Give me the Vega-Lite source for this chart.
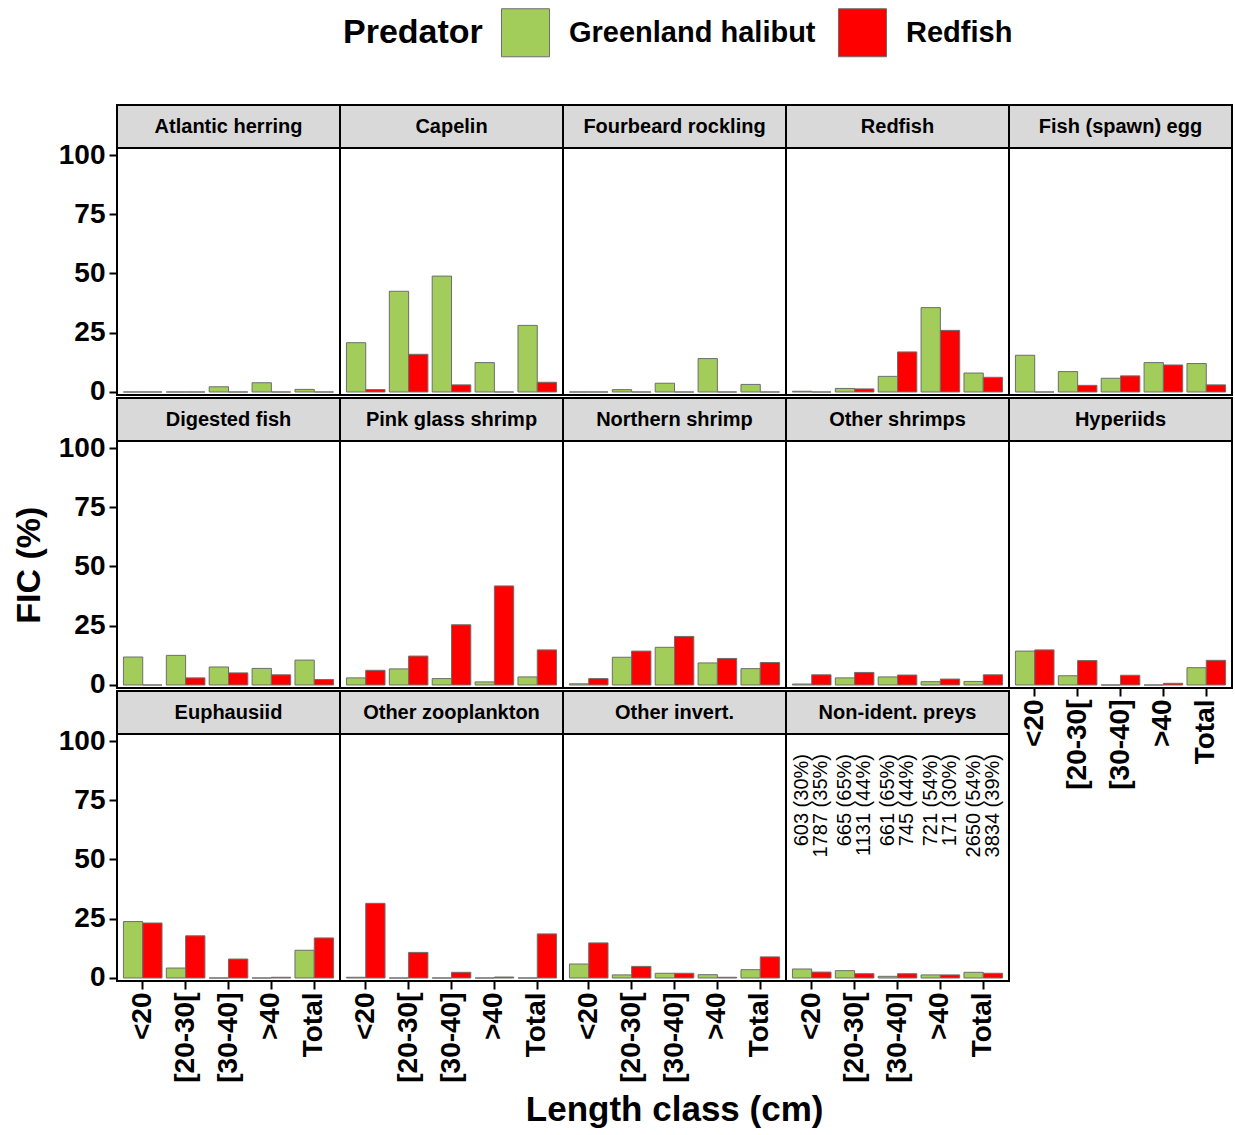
{
 "$schema": "https://vega.github.io/schema/vega-lite/v6.json",
 "background": "white",
 "padding": {"left": 13, "top": 8, "right": 3, "bottom": 3},
 "title": {"text": "Length class (cm)", "orient": "bottom", "anchor": "middle", "fontSize": 35, "fontWeight": "bold", "color": "black", "offset": 10, "dx": 51},
 "config": {
  "font": "Liberation Sans",
  "view": {"stroke": "black", "strokeWidth": 2},
  "axis": {"domain": false, "grid": false, "labelFontSize": 28, "labelFontWeight": "bold", "labelColor": "black", "tickColor": "black", "tickWidth": 2, "tickSize": 8, "labelPadding": 4},
  "axisX": {"labelAngle": -90, "labelPadding": 3},
  "bar": {"stroke": "#6e6e6e", "strokeWidth": 1},
  "legend": {"orient": "none", "legendX": 226, "legendY": -97, "direction": "horizontal", "titleOrient": "left", "titleFontSize": 34, "titleFontWeight": "bold", "titleColor": "black", "labelFontSize": 29, "labelFontWeight": "bold", "labelColor": "black", "labelLimit": 400, "symbolType": "square", "symbolSize": 2304, "symbolStrokeColor": "#6e6e6e", "symbolStrokeWidth": 1, "symbolOpacity": 1, "labelOffset": 19, "columnPadding": 20, "titlePadding": 18}
 },
 "data": {"values": [
  {"prey":"Atlantic herring","len":"<20","pred":"Greenland halibut","fic":0},
  {"prey":"Atlantic herring","len":"<20","pred":"Redfish","fic":0},
  {"prey":"Atlantic herring","len":"[20-30[","pred":"Greenland halibut","fic":0},
  {"prey":"Atlantic herring","len":"[20-30[","pred":"Redfish","fic":0},
  {"prey":"Atlantic herring","len":"[30-40]","pred":"Greenland halibut","fic":2.2},
  {"prey":"Atlantic herring","len":"[30-40]","pred":"Redfish","fic":0},
  {"prey":"Atlantic herring","len":">40","pred":"Greenland halibut","fic":3.9},
  {"prey":"Atlantic herring","len":">40","pred":"Redfish","fic":0},
  {"prey":"Atlantic herring","len":"Total","pred":"Greenland halibut","fic":1.1},
  {"prey":"Atlantic herring","len":"Total","pred":"Redfish","fic":0},
  {"prey":"Capelin","len":"<20","pred":"Greenland halibut","fic":20.8},
  {"prey":"Capelin","len":"<20","pred":"Redfish","fic":1.0},
  {"prey":"Capelin","len":"[20-30[","pred":"Greenland halibut","fic":42.5},
  {"prey":"Capelin","len":"[20-30[","pred":"Redfish","fic":15.9},
  {"prey":"Capelin","len":"[30-40]","pred":"Greenland halibut","fic":48.9},
  {"prey":"Capelin","len":"[30-40]","pred":"Redfish","fic":3.0},
  {"prey":"Capelin","len":">40","pred":"Greenland halibut","fic":12.4},
  {"prey":"Capelin","len":">40","pred":"Redfish","fic":0},
  {"prey":"Capelin","len":"Total","pred":"Greenland halibut","fic":28.1},
  {"prey":"Capelin","len":"Total","pred":"Redfish","fic":4.1},
  {"prey":"Fourbeard rockling","len":"<20","pred":"Greenland halibut","fic":0},
  {"prey":"Fourbeard rockling","len":"<20","pred":"Redfish","fic":0},
  {"prey":"Fourbeard rockling","len":"[20-30[","pred":"Greenland halibut","fic":1.0},
  {"prey":"Fourbeard rockling","len":"[20-30[","pred":"Redfish","fic":0},
  {"prey":"Fourbeard rockling","len":"[30-40]","pred":"Greenland halibut","fic":3.7},
  {"prey":"Fourbeard rockling","len":"[30-40]","pred":"Redfish","fic":0},
  {"prey":"Fourbeard rockling","len":">40","pred":"Greenland halibut","fic":14.1},
  {"prey":"Fourbeard rockling","len":">40","pred":"Redfish","fic":0},
  {"prey":"Fourbeard rockling","len":"Total","pred":"Greenland halibut","fic":3.2},
  {"prey":"Fourbeard rockling","len":"Total","pred":"Redfish","fic":0},
  {"prey":"Redfish","len":"<20","pred":"Greenland halibut","fic":0.3},
  {"prey":"Redfish","len":"<20","pred":"Redfish","fic":0},
  {"prey":"Redfish","len":"[20-30[","pred":"Greenland halibut","fic":1.5},
  {"prey":"Redfish","len":"[20-30[","pred":"Redfish","fic":1.3},
  {"prey":"Redfish","len":"[30-40]","pred":"Greenland halibut","fic":6.6},
  {"prey":"Redfish","len":"[30-40]","pred":"Redfish","fic":16.9},
  {"prey":"Redfish","len":">40","pred":"Greenland halibut","fic":35.6},
  {"prey":"Redfish","len":">40","pred":"Redfish","fic":26.0},
  {"prey":"Redfish","len":"Total","pred":"Greenland halibut","fic":8.0},
  {"prey":"Redfish","len":"Total","pred":"Redfish","fic":6.2},
  {"prey":"Fish (spawn) egg","len":"<20","pred":"Greenland halibut","fic":15.5},
  {"prey":"Fish (spawn) egg","len":"<20","pred":"Redfish","fic":0},
  {"prey":"Fish (spawn) egg","len":"[20-30[","pred":"Greenland halibut","fic":8.6},
  {"prey":"Fish (spawn) egg","len":"[20-30[","pred":"Redfish","fic":2.8},
  {"prey":"Fish (spawn) egg","len":"[30-40]","pred":"Greenland halibut","fic":5.8},
  {"prey":"Fish (spawn) egg","len":"[30-40]","pred":"Redfish","fic":6.8},
  {"prey":"Fish (spawn) egg","len":">40","pred":"Greenland halibut","fic":12.4},
  {"prey":"Fish (spawn) egg","len":">40","pred":"Redfish","fic":11.4},
  {"prey":"Fish (spawn) egg","len":"Total","pred":"Greenland halibut","fic":12.0},
  {"prey":"Fish (spawn) egg","len":"Total","pred":"Redfish","fic":3.0},
  {"prey":"Digested fish","len":"<20","pred":"Greenland halibut","fic":11.8},
  {"prey":"Digested fish","len":"<20","pred":"Redfish","fic":0},
  {"prey":"Digested fish","len":"[20-30[","pred":"Greenland halibut","fic":12.5},
  {"prey":"Digested fish","len":"[20-30[","pred":"Redfish","fic":3.0},
  {"prey":"Digested fish","len":"[30-40]","pred":"Greenland halibut","fic":7.6},
  {"prey":"Digested fish","len":"[30-40]","pred":"Redfish","fic":5.1},
  {"prey":"Digested fish","len":">40","pred":"Greenland halibut","fic":7.0},
  {"prey":"Digested fish","len":">40","pred":"Redfish","fic":4.3},
  {"prey":"Digested fish","len":"Total","pred":"Greenland halibut","fic":10.5},
  {"prey":"Digested fish","len":"Total","pred":"Redfish","fic":2.3},
  {"prey":"Pink glass shrimp","len":"<20","pred":"Greenland halibut","fic":3.0},
  {"prey":"Pink glass shrimp","len":"<20","pred":"Redfish","fic":6.2},
  {"prey":"Pink glass shrimp","len":"[20-30[","pred":"Greenland halibut","fic":6.8},
  {"prey":"Pink glass shrimp","len":"[20-30[","pred":"Redfish","fic":12.2},
  {"prey":"Pink glass shrimp","len":"[30-40]","pred":"Greenland halibut","fic":2.7},
  {"prey":"Pink glass shrimp","len":"[30-40]","pred":"Redfish","fic":25.4},
  {"prey":"Pink glass shrimp","len":">40","pred":"Greenland halibut","fic":1.3},
  {"prey":"Pink glass shrimp","len":">40","pred":"Redfish","fic":41.8},
  {"prey":"Pink glass shrimp","len":"Total","pred":"Greenland halibut","fic":3.4},
  {"prey":"Pink glass shrimp","len":"Total","pred":"Redfish","fic":14.8},
  {"prey":"Northern shrimp","len":"<20","pred":"Greenland halibut","fic":0.5},
  {"prey":"Northern shrimp","len":"<20","pred":"Redfish","fic":2.7},
  {"prey":"Northern shrimp","len":"[20-30[","pred":"Greenland halibut","fic":11.7},
  {"prey":"Northern shrimp","len":"[20-30[","pred":"Redfish","fic":14.3},
  {"prey":"Northern shrimp","len":"[30-40]","pred":"Greenland halibut","fic":15.9},
  {"prey":"Northern shrimp","len":"[30-40]","pred":"Redfish","fic":20.5},
  {"prey":"Northern shrimp","len":">40","pred":"Greenland halibut","fic":9.3},
  {"prey":"Northern shrimp","len":">40","pred":"Redfish","fic":11.2},
  {"prey":"Northern shrimp","len":"Total","pred":"Greenland halibut","fic":6.9},
  {"prey":"Northern shrimp","len":"Total","pred":"Redfish","fic":9.5},
  {"prey":"Other shrimps","len":"<20","pred":"Greenland halibut","fic":0.4},
  {"prey":"Other shrimps","len":"<20","pred":"Redfish","fic":4.3},
  {"prey":"Other shrimps","len":"[20-30[","pred":"Greenland halibut","fic":3.0},
  {"prey":"Other shrimps","len":"[20-30[","pred":"Redfish","fic":5.3},
  {"prey":"Other shrimps","len":"[30-40]","pred":"Greenland halibut","fic":3.4},
  {"prey":"Other shrimps","len":"[30-40]","pred":"Redfish","fic":4.2},
  {"prey":"Other shrimps","len":">40","pred":"Greenland halibut","fic":1.4},
  {"prey":"Other shrimps","len":">40","pred":"Redfish","fic":2.5},
  {"prey":"Other shrimps","len":"Total","pred":"Greenland halibut","fic":1.5},
  {"prey":"Other shrimps","len":"Total","pred":"Redfish","fic":4.3},
  {"prey":"Hyperiids","len":"<20","pred":"Greenland halibut","fic":14.3},
  {"prey":"Hyperiids","len":"<20","pred":"Redfish","fic":14.8},
  {"prey":"Hyperiids","len":"[20-30[","pred":"Greenland halibut","fic":3.9},
  {"prey":"Hyperiids","len":"[20-30[","pred":"Redfish","fic":10.3},
  {"prey":"Hyperiids","len":"[30-40]","pred":"Greenland halibut","fic":0},
  {"prey":"Hyperiids","len":"[30-40]","pred":"Redfish","fic":4.1},
  {"prey":"Hyperiids","len":">40","pred":"Greenland halibut","fic":0},
  {"prey":"Hyperiids","len":">40","pred":"Redfish","fic":0.7},
  {"prey":"Hyperiids","len":"Total","pred":"Greenland halibut","fic":7.3},
  {"prey":"Hyperiids","len":"Total","pred":"Redfish","fic":10.4},
  {"prey":"Euphausiid","len":"<20","pred":"Greenland halibut","fic":23.8},
  {"prey":"Euphausiid","len":"<20","pred":"Redfish","fic":23.2},
  {"prey":"Euphausiid","len":"[20-30[","pred":"Greenland halibut","fic":4.2},
  {"prey":"Euphausiid","len":"[20-30[","pred":"Redfish","fic":17.8},
  {"prey":"Euphausiid","len":"[30-40]","pred":"Greenland halibut","fic":0},
  {"prey":"Euphausiid","len":"[30-40]","pred":"Redfish","fic":8.0},
  {"prey":"Euphausiid","len":">40","pred":"Greenland halibut","fic":0},
  {"prey":"Euphausiid","len":">40","pred":"Redfish","fic":0.3},
  {"prey":"Euphausiid","len":"Total","pred":"Greenland halibut","fic":11.7},
  {"prey":"Euphausiid","len":"Total","pred":"Redfish","fic":16.9},
  {"prey":"Other zooplankton","len":"<20","pred":"Greenland halibut","fic":0.3},
  {"prey":"Other zooplankton","len":"<20","pred":"Redfish","fic":31.5},
  {"prey":"Other zooplankton","len":"[20-30[","pred":"Greenland halibut","fic":0},
  {"prey":"Other zooplankton","len":"[20-30[","pred":"Redfish","fic":10.8},
  {"prey":"Other zooplankton","len":"[30-40]","pred":"Greenland halibut","fic":0},
  {"prey":"Other zooplankton","len":"[30-40]","pred":"Redfish","fic":2.4},
  {"prey":"Other zooplankton","len":">40","pred":"Greenland halibut","fic":0},
  {"prey":"Other zooplankton","len":">40","pred":"Redfish","fic":0.4},
  {"prey":"Other zooplankton","len":"Total","pred":"Greenland halibut","fic":0},
  {"prey":"Other zooplankton","len":"Total","pred":"Redfish","fic":18.6},
  {"prey":"Other invert.","len":"<20","pred":"Greenland halibut","fic":5.9},
  {"prey":"Other invert.","len":"<20","pred":"Redfish","fic":14.8},
  {"prey":"Other invert.","len":"[20-30[","pred":"Greenland halibut","fic":1.3},
  {"prey":"Other invert.","len":"[20-30[","pred":"Redfish","fic":4.9},
  {"prey":"Other invert.","len":"[30-40]","pred":"Greenland halibut","fic":2.0},
  {"prey":"Other invert.","len":"[30-40]","pred":"Redfish","fic":2.0},
  {"prey":"Other invert.","len":">40","pred":"Greenland halibut","fic":1.4},
  {"prey":"Other invert.","len":">40","pred":"Redfish","fic":0.3},
  {"prey":"Other invert.","len":"Total","pred":"Greenland halibut","fic":3.5},
  {"prey":"Other invert.","len":"Total","pred":"Redfish","fic":8.9},
  {"prey":"Non-ident. preys","len":"<20","pred":"Greenland halibut","fic":3.8,"n":"603 (30%)"},
  {"prey":"Non-ident. preys","len":"<20","pred":"Redfish","fic":2.5,"n":"1787 (35%)"},
  {"prey":"Non-ident. preys","len":"[20-30[","pred":"Greenland halibut","fic":3.1,"n":"665 (65%)"},
  {"prey":"Non-ident. preys","len":"[20-30[","pred":"Redfish","fic":1.8,"n":"1131 (44%)"},
  {"prey":"Non-ident. preys","len":"[30-40]","pred":"Greenland halibut","fic":0.7,"n":"661 (65%)"},
  {"prey":"Non-ident. preys","len":"[30-40]","pred":"Redfish","fic":1.8,"n":"745 (44%)"},
  {"prey":"Non-ident. preys","len":">40","pred":"Greenland halibut","fic":1.3,"n":"721 (54%)"},
  {"prey":"Non-ident. preys","len":">40","pred":"Redfish","fic":1.3,"n":"171 (30%)"},
  {"prey":"Non-ident. preys","len":"Total","pred":"Greenland halibut","fic":2.4,"n":"2650 (54%)"},
  {"prey":"Non-ident. preys","len":"Total","pred":"Redfish","fic":2.0,"n":"3834 (39%)"}
 ]},
 "vconcat": [
  {
   "title": {"text": "FIC (%)", "orient": "left", "anchor": "middle", "fontSize": 34, "fontWeight": "bold", "color": "black", "offset": 10, "dx": 28},
   "columns": 5,
   "bounds": "flush",
   "spacing": {"row": 3, "column": 0},
   "concat": [
    {"transform": [{"filter": "datum.prey == 'Atlantic herring'"}], "width": 223, "height": 290, "layer": [
     {"mark": "bar", "encoding": {"x": {"field": "len", "type": "nominal", "sort": ["<20","[20-30[","[30-40]",">40","Total"], "title": null, "scale": {"paddingInner": 0.1, "paddingOuter": 0.15}, "axis": null}, "xOffset": {"field": "pred", "type": "nominal", "scale": {"paddingInner": 0, "paddingOuter": 0}}, "y": {"field": "fic", "type": "quantitative", "title": null, "scale": {"domain": [-1.27, 121.1], "nice": false, "zero": false}, "axis": {"values": [0, 25, 50, 75, 100]}}, "y2": {"datum": 0}, "color": {"field": "pred", "type": "nominal", "title": "Predator", "scale": {"domain": ["Greenland halibut", "Redfish"], "range": ["#A2CD5A", "#FF0000"]}}}},
     {"transform": [{"filter": "datum.len == 'Total' && datum.pred == 'Redfish'"}], "mark": {"type": "rect", "fill": "#D9D9D9", "stroke": "black", "strokeWidth": 2}, "encoding": {"y": {"datum": 103}, "y2": {"datum": 121.1}}},
     {"transform": [{"filter": "datum.len == 'Total' && datum.pred == 'Redfish'"}], "mark": {"type": "text", "fontSize": 20, "fontWeight": "bold", "color": "black", "baseline": "middle"}, "encoding": {"y": {"datum": 112}, "text": {"field": "prey"}}}
    ]},
    {"transform": [{"filter": "datum.prey == 'Capelin'"}], "width": 223, "height": 290, "layer": [
     {"mark": "bar", "encoding": {"x": {"field": "len", "type": "nominal", "sort": ["<20","[20-30[","[30-40]",">40","Total"], "title": null, "scale": {"paddingInner": 0.1, "paddingOuter": 0.15}, "axis": null}, "xOffset": {"field": "pred", "type": "nominal", "scale": {"paddingInner": 0, "paddingOuter": 0}}, "y": {"field": "fic", "type": "quantitative", "title": null, "scale": {"domain": [-1.27, 121.1], "nice": false, "zero": false}, "axis": null}, "y2": {"datum": 0}, "color": {"field": "pred", "type": "nominal", "title": "Predator", "scale": {"domain": ["Greenland halibut", "Redfish"], "range": ["#A2CD5A", "#FF0000"]}}}},
     {"transform": [{"filter": "datum.len == 'Total' && datum.pred == 'Redfish'"}], "mark": {"type": "rect", "fill": "#D9D9D9", "stroke": "black", "strokeWidth": 2}, "encoding": {"y": {"datum": 103, "axis": null}, "y2": {"datum": 121.1}}},
     {"transform": [{"filter": "datum.len == 'Total' && datum.pred == 'Redfish'"}], "mark": {"type": "text", "fontSize": 20, "fontWeight": "bold", "color": "black", "baseline": "middle"}, "encoding": {"y": {"datum": 112, "axis": null}, "text": {"field": "prey"}}}
    ]},
    {"transform": [{"filter": "datum.prey == 'Fourbeard rockling'"}], "width": 223, "height": 290, "layer": [
     {"mark": "bar", "encoding": {"x": {"field": "len", "type": "nominal", "sort": ["<20","[20-30[","[30-40]",">40","Total"], "title": null, "scale": {"paddingInner": 0.1, "paddingOuter": 0.15}, "axis": null}, "xOffset": {"field": "pred", "type": "nominal", "scale": {"paddingInner": 0, "paddingOuter": 0}}, "y": {"field": "fic", "type": "quantitative", "title": null, "scale": {"domain": [-1.27, 121.1], "nice": false, "zero": false}, "axis": null}, "y2": {"datum": 0}, "color": {"field": "pred", "type": "nominal", "title": "Predator", "scale": {"domain": ["Greenland halibut", "Redfish"], "range": ["#A2CD5A", "#FF0000"]}}}},
     {"transform": [{"filter": "datum.len == 'Total' && datum.pred == 'Redfish'"}], "mark": {"type": "rect", "fill": "#D9D9D9", "stroke": "black", "strokeWidth": 2}, "encoding": {"y": {"datum": 103, "axis": null}, "y2": {"datum": 121.1}}},
     {"transform": [{"filter": "datum.len == 'Total' && datum.pred == 'Redfish'"}], "mark": {"type": "text", "fontSize": 20, "fontWeight": "bold", "color": "black", "baseline": "middle"}, "encoding": {"y": {"datum": 112, "axis": null}, "text": {"field": "prey"}}}
    ]},
    {"transform": [{"filter": "datum.prey == 'Redfish'"}], "width": 223, "height": 290, "layer": [
     {"mark": "bar", "encoding": {"x": {"field": "len", "type": "nominal", "sort": ["<20","[20-30[","[30-40]",">40","Total"], "title": null, "scale": {"paddingInner": 0.1, "paddingOuter": 0.15}, "axis": null}, "xOffset": {"field": "pred", "type": "nominal", "scale": {"paddingInner": 0, "paddingOuter": 0}}, "y": {"field": "fic", "type": "quantitative", "title": null, "scale": {"domain": [-1.27, 121.1], "nice": false, "zero": false}, "axis": null}, "y2": {"datum": 0}, "color": {"field": "pred", "type": "nominal", "title": "Predator", "scale": {"domain": ["Greenland halibut", "Redfish"], "range": ["#A2CD5A", "#FF0000"]}}}},
     {"transform": [{"filter": "datum.len == 'Total' && datum.pred == 'Redfish'"}], "mark": {"type": "rect", "fill": "#D9D9D9", "stroke": "black", "strokeWidth": 2}, "encoding": {"y": {"datum": 103, "axis": null}, "y2": {"datum": 121.1}}},
     {"transform": [{"filter": "datum.len == 'Total' && datum.pred == 'Redfish'"}], "mark": {"type": "text", "fontSize": 20, "fontWeight": "bold", "color": "black", "baseline": "middle"}, "encoding": {"y": {"datum": 112, "axis": null}, "text": {"field": "prey"}}}
    ]},
    {"transform": [{"filter": "datum.prey == 'Fish (spawn) egg'"}], "width": 223, "height": 290, "layer": [
     {"mark": "bar", "encoding": {"x": {"field": "len", "type": "nominal", "sort": ["<20","[20-30[","[30-40]",">40","Total"], "title": null, "scale": {"paddingInner": 0.1, "paddingOuter": 0.15}, "axis": null}, "xOffset": {"field": "pred", "type": "nominal", "scale": {"paddingInner": 0, "paddingOuter": 0}}, "y": {"field": "fic", "type": "quantitative", "title": null, "scale": {"domain": [-1.27, 121.1], "nice": false, "zero": false}, "axis": null}, "y2": {"datum": 0}, "color": {"field": "pred", "type": "nominal", "title": "Predator", "scale": {"domain": ["Greenland halibut", "Redfish"], "range": ["#A2CD5A", "#FF0000"]}}}},
     {"transform": [{"filter": "datum.len == 'Total' && datum.pred == 'Redfish'"}], "mark": {"type": "rect", "fill": "#D9D9D9", "stroke": "black", "strokeWidth": 2}, "encoding": {"y": {"datum": 103, "axis": null}, "y2": {"datum": 121.1}}},
     {"transform": [{"filter": "datum.len == 'Total' && datum.pred == 'Redfish'"}], "mark": {"type": "text", "fontSize": 20, "fontWeight": "bold", "color": "black", "baseline": "middle"}, "encoding": {"y": {"datum": 112, "axis": null}, "text": {"field": "prey"}}}
    ]},
    {"transform": [{"filter": "datum.prey == 'Digested fish'"}], "width": 223, "height": 290, "layer": [
     {"mark": "bar", "encoding": {"x": {"field": "len", "type": "nominal", "sort": ["<20","[20-30[","[30-40]",">40","Total"], "title": null, "scale": {"paddingInner": 0.1, "paddingOuter": 0.15}, "axis": null}, "xOffset": {"field": "pred", "type": "nominal", "scale": {"paddingInner": 0, "paddingOuter": 0}}, "y": {"field": "fic", "type": "quantitative", "title": null, "scale": {"domain": [-1.27, 121.1], "nice": false, "zero": false}, "axis": {"values": [0, 25, 50, 75, 100]}}, "y2": {"datum": 0}, "color": {"field": "pred", "type": "nominal", "title": "Predator", "scale": {"domain": ["Greenland halibut", "Redfish"], "range": ["#A2CD5A", "#FF0000"]}}}},
     {"transform": [{"filter": "datum.len == 'Total' && datum.pred == 'Redfish'"}], "mark": {"type": "rect", "fill": "#D9D9D9", "stroke": "black", "strokeWidth": 2}, "encoding": {"y": {"datum": 103}, "y2": {"datum": 121.1}}},
     {"transform": [{"filter": "datum.len == 'Total' && datum.pred == 'Redfish'"}], "mark": {"type": "text", "fontSize": 20, "fontWeight": "bold", "color": "black", "baseline": "middle"}, "encoding": {"y": {"datum": 112}, "text": {"field": "prey"}}}
    ]},
    {"transform": [{"filter": "datum.prey == 'Pink glass shrimp'"}], "width": 223, "height": 290, "layer": [
     {"mark": "bar", "encoding": {"x": {"field": "len", "type": "nominal", "sort": ["<20","[20-30[","[30-40]",">40","Total"], "title": null, "scale": {"paddingInner": 0.1, "paddingOuter": 0.15}, "axis": null}, "xOffset": {"field": "pred", "type": "nominal", "scale": {"paddingInner": 0, "paddingOuter": 0}}, "y": {"field": "fic", "type": "quantitative", "title": null, "scale": {"domain": [-1.27, 121.1], "nice": false, "zero": false}, "axis": null}, "y2": {"datum": 0}, "color": {"field": "pred", "type": "nominal", "title": "Predator", "scale": {"domain": ["Greenland halibut", "Redfish"], "range": ["#A2CD5A", "#FF0000"]}}}},
     {"transform": [{"filter": "datum.len == 'Total' && datum.pred == 'Redfish'"}], "mark": {"type": "rect", "fill": "#D9D9D9", "stroke": "black", "strokeWidth": 2}, "encoding": {"y": {"datum": 103, "axis": null}, "y2": {"datum": 121.1}}},
     {"transform": [{"filter": "datum.len == 'Total' && datum.pred == 'Redfish'"}], "mark": {"type": "text", "fontSize": 20, "fontWeight": "bold", "color": "black", "baseline": "middle"}, "encoding": {"y": {"datum": 112, "axis": null}, "text": {"field": "prey"}}}
    ]},
    {"transform": [{"filter": "datum.prey == 'Northern shrimp'"}], "width": 223, "height": 290, "layer": [
     {"mark": "bar", "encoding": {"x": {"field": "len", "type": "nominal", "sort": ["<20","[20-30[","[30-40]",">40","Total"], "title": null, "scale": {"paddingInner": 0.1, "paddingOuter": 0.15}, "axis": null}, "xOffset": {"field": "pred", "type": "nominal", "scale": {"paddingInner": 0, "paddingOuter": 0}}, "y": {"field": "fic", "type": "quantitative", "title": null, "scale": {"domain": [-1.27, 121.1], "nice": false, "zero": false}, "axis": null}, "y2": {"datum": 0}, "color": {"field": "pred", "type": "nominal", "title": "Predator", "scale": {"domain": ["Greenland halibut", "Redfish"], "range": ["#A2CD5A", "#FF0000"]}}}},
     {"transform": [{"filter": "datum.len == 'Total' && datum.pred == 'Redfish'"}], "mark": {"type": "rect", "fill": "#D9D9D9", "stroke": "black", "strokeWidth": 2}, "encoding": {"y": {"datum": 103, "axis": null}, "y2": {"datum": 121.1}}},
     {"transform": [{"filter": "datum.len == 'Total' && datum.pred == 'Redfish'"}], "mark": {"type": "text", "fontSize": 20, "fontWeight": "bold", "color": "black", "baseline": "middle"}, "encoding": {"y": {"datum": 112, "axis": null}, "text": {"field": "prey"}}}
    ]},
    {"transform": [{"filter": "datum.prey == 'Other shrimps'"}], "width": 223, "height": 290, "layer": [
     {"mark": "bar", "encoding": {"x": {"field": "len", "type": "nominal", "sort": ["<20","[20-30[","[30-40]",">40","Total"], "title": null, "scale": {"paddingInner": 0.1, "paddingOuter": 0.15}, "axis": null}, "xOffset": {"field": "pred", "type": "nominal", "scale": {"paddingInner": 0, "paddingOuter": 0}}, "y": {"field": "fic", "type": "quantitative", "title": null, "scale": {"domain": [-1.27, 121.1], "nice": false, "zero": false}, "axis": null}, "y2": {"datum": 0}, "color": {"field": "pred", "type": "nominal", "title": "Predator", "scale": {"domain": ["Greenland halibut", "Redfish"], "range": ["#A2CD5A", "#FF0000"]}}}},
     {"transform": [{"filter": "datum.len == 'Total' && datum.pred == 'Redfish'"}], "mark": {"type": "rect", "fill": "#D9D9D9", "stroke": "black", "strokeWidth": 2}, "encoding": {"y": {"datum": 103, "axis": null}, "y2": {"datum": 121.1}}},
     {"transform": [{"filter": "datum.len == 'Total' && datum.pred == 'Redfish'"}], "mark": {"type": "text", "fontSize": 20, "fontWeight": "bold", "color": "black", "baseline": "middle"}, "encoding": {"y": {"datum": 112, "axis": null}, "text": {"field": "prey"}}}
    ]},
    {"transform": [{"filter": "datum.prey == 'Hyperiids'"}], "width": 223, "height": 290, "layer": [
     {"mark": "bar", "encoding": {"x": {"field": "len", "type": "nominal", "sort": ["<20","[20-30[","[30-40]",">40","Total"], "title": null, "scale": {"paddingInner": 0.1, "paddingOuter": 0.15}, "axis": {}}, "xOffset": {"field": "pred", "type": "nominal", "scale": {"paddingInner": 0, "paddingOuter": 0}}, "y": {"field": "fic", "type": "quantitative", "title": null, "scale": {"domain": [-1.27, 121.1], "nice": false, "zero": false}, "axis": null}, "y2": {"datum": 0}, "color": {"field": "pred", "type": "nominal", "title": "Predator", "scale": {"domain": ["Greenland halibut", "Redfish"], "range": ["#A2CD5A", "#FF0000"]}}}},
     {"transform": [{"filter": "datum.len == 'Total' && datum.pred == 'Redfish'"}], "mark": {"type": "rect", "fill": "#D9D9D9", "stroke": "black", "strokeWidth": 2}, "encoding": {"y": {"datum": 103, "axis": null}, "y2": {"datum": 121.1}}},
     {"transform": [{"filter": "datum.len == 'Total' && datum.pred == 'Redfish'"}], "mark": {"type": "text", "fontSize": 20, "fontWeight": "bold", "color": "black", "baseline": "middle"}, "encoding": {"y": {"datum": 112, "axis": null}, "text": {"field": "prey"}}}
    ]},
    {"transform": [{"filter": "datum.prey == 'Euphausiid'"}], "width": 223, "height": 290, "layer": [
     {"mark": "bar", "encoding": {"x": {"field": "len", "type": "nominal", "sort": ["<20","[20-30[","[30-40]",">40","Total"], "title": null, "scale": {"paddingInner": 0.1, "paddingOuter": 0.15}, "axis": {}}, "xOffset": {"field": "pred", "type": "nominal", "scale": {"paddingInner": 0, "paddingOuter": 0}}, "y": {"field": "fic", "type": "quantitative", "title": null, "scale": {"domain": [-1.27, 121.1], "nice": false, "zero": false}, "axis": {"values": [0, 25, 50, 75, 100]}}, "y2": {"datum": 0}, "color": {"field": "pred", "type": "nominal", "title": "Predator", "scale": {"domain": ["Greenland halibut", "Redfish"], "range": ["#A2CD5A", "#FF0000"]}}}},
     {"transform": [{"filter": "datum.len == 'Total' && datum.pred == 'Redfish'"}], "mark": {"type": "rect", "fill": "#D9D9D9", "stroke": "black", "strokeWidth": 2}, "encoding": {"y": {"datum": 103}, "y2": {"datum": 121.1}}},
     {"transform": [{"filter": "datum.len == 'Total' && datum.pred == 'Redfish'"}], "mark": {"type": "text", "fontSize": 20, "fontWeight": "bold", "color": "black", "baseline": "middle"}, "encoding": {"y": {"datum": 112}, "text": {"field": "prey"}}}
    ]},
    {"transform": [{"filter": "datum.prey == 'Other zooplankton'"}], "width": 223, "height": 290, "layer": [
     {"mark": "bar", "encoding": {"x": {"field": "len", "type": "nominal", "sort": ["<20","[20-30[","[30-40]",">40","Total"], "title": null, "scale": {"paddingInner": 0.1, "paddingOuter": 0.15}, "axis": {}}, "xOffset": {"field": "pred", "type": "nominal", "scale": {"paddingInner": 0, "paddingOuter": 0}}, "y": {"field": "fic", "type": "quantitative", "title": null, "scale": {"domain": [-1.27, 121.1], "nice": false, "zero": false}, "axis": null}, "y2": {"datum": 0}, "color": {"field": "pred", "type": "nominal", "title": "Predator", "scale": {"domain": ["Greenland halibut", "Redfish"], "range": ["#A2CD5A", "#FF0000"]}}}},
     {"transform": [{"filter": "datum.len == 'Total' && datum.pred == 'Redfish'"}], "mark": {"type": "rect", "fill": "#D9D9D9", "stroke": "black", "strokeWidth": 2}, "encoding": {"y": {"datum": 103, "axis": null}, "y2": {"datum": 121.1}}},
     {"transform": [{"filter": "datum.len == 'Total' && datum.pred == 'Redfish'"}], "mark": {"type": "text", "fontSize": 20, "fontWeight": "bold", "color": "black", "baseline": "middle"}, "encoding": {"y": {"datum": 112, "axis": null}, "text": {"field": "prey"}}}
    ]},
    {"transform": [{"filter": "datum.prey == 'Other invert.'"}], "width": 223, "height": 290, "layer": [
     {"mark": "bar", "encoding": {"x": {"field": "len", "type": "nominal", "sort": ["<20","[20-30[","[30-40]",">40","Total"], "title": null, "scale": {"paddingInner": 0.1, "paddingOuter": 0.15}, "axis": {}}, "xOffset": {"field": "pred", "type": "nominal", "scale": {"paddingInner": 0, "paddingOuter": 0}}, "y": {"field": "fic", "type": "quantitative", "title": null, "scale": {"domain": [-1.27, 121.1], "nice": false, "zero": false}, "axis": null}, "y2": {"datum": 0}, "color": {"field": "pred", "type": "nominal", "title": "Predator", "scale": {"domain": ["Greenland halibut", "Redfish"], "range": ["#A2CD5A", "#FF0000"]}}}},
     {"transform": [{"filter": "datum.len == 'Total' && datum.pred == 'Redfish'"}], "mark": {"type": "rect", "fill": "#D9D9D9", "stroke": "black", "strokeWidth": 2}, "encoding": {"y": {"datum": 103, "axis": null}, "y2": {"datum": 121.1}}},
     {"transform": [{"filter": "datum.len == 'Total' && datum.pred == 'Redfish'"}], "mark": {"type": "text", "fontSize": 20, "fontWeight": "bold", "color": "black", "baseline": "middle"}, "encoding": {"y": {"datum": 112, "axis": null}, "text": {"field": "prey"}}}
    ]},
    {"transform": [{"filter": "datum.prey == 'Non-ident. preys'"}], "width": 223, "height": 290, "layer": [
     {"mark": "bar", "encoding": {"x": {"field": "len", "type": "nominal", "sort": ["<20","[20-30[","[30-40]",">40","Total"], "title": null, "scale": {"paddingInner": 0.1, "paddingOuter": 0.15}, "axis": {}}, "xOffset": {"field": "pred", "type": "nominal", "scale": {"paddingInner": 0, "paddingOuter": 0}}, "y": {"field": "fic", "type": "quantitative", "title": null, "scale": {"domain": [-1.27, 121.1], "nice": false, "zero": false}, "axis": null}, "y2": {"datum": 0}, "color": {"field": "pred", "type": "nominal", "title": "Predator", "scale": {"domain": ["Greenland halibut", "Redfish"], "range": ["#A2CD5A", "#FF0000"]}}}},
     {"transform": [{"filter": "datum.len == 'Total' && datum.pred == 'Redfish'"}], "mark": {"type": "rect", "fill": "#D9D9D9", "stroke": "black", "strokeWidth": 2}, "encoding": {"y": {"datum": 103, "axis": null}, "y2": {"datum": 121.1}}},
     {"transform": [{"filter": "datum.len == 'Total' && datum.pred == 'Redfish'"}], "mark": {"type": "text", "fontSize": 20, "fontWeight": "bold", "color": "black", "baseline": "middle"}, "encoding": {"y": {"datum": 112, "axis": null}, "text": {"field": "prey"}}},
     {"mark": {"type": "text", "angle": 270, "align": "right", "baseline": "middle", "fontSize": 20, "color": "black"}, "encoding": {"x": {"field": "len", "type": "nominal", "sort": ["<20","[20-30[","[30-40]",">40","Total"]}, "xOffset": {"field": "pred", "type": "nominal"}, "y": {"datum": 94.5, "axis": null}, "text": {"field": "n"}}}
    ]}
   ]
  }
 ]
}
